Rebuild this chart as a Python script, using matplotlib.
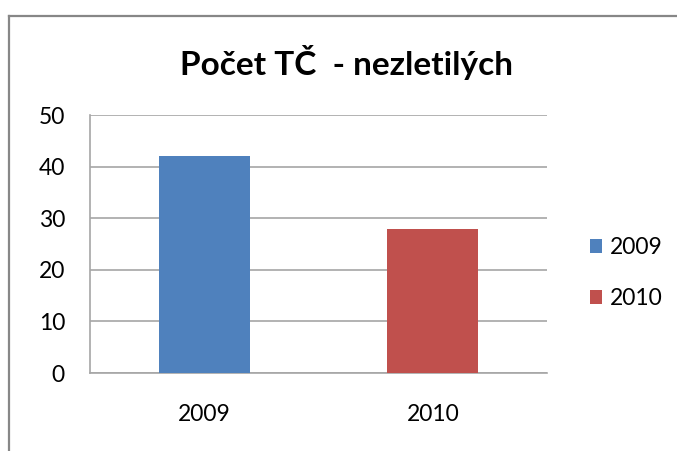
import matplotlib.pyplot as plt
from matplotlib.lines import Line2D
from matplotlib.patches import Patch

# data
categories = ["2009", "2010"]
values = [42, 28]
colors = ["#4f81bd", "#c0504d"]
y_ticks = [0, 10, 20, 30, 40, 50]
title = "Počet TČ  - nezletilých"

plt.rcParams['font.family'] = ['Lato', 'DejaVu Sans']

W, H = 677, 451
fig = plt.figure(figsize=(W / 100, H / 100), dpi=100)
fig.patch.set_facecolor("white")

# outer chart frame (only top and left edges show in the crop)
fx, fy = 8.5 / W, 1 - 15.5 / H
fig.add_artist(Line2D([fx, fx], [0, fy], transform=fig.transFigure, color="#878787", lw=1.6))
fig.add_artist(Line2D([fx, 1], [fy, fy], transform=fig.transFigure, color="#878787", lw=1.6))

# plot area in pixels: x 90..547, y 115..373
ax = fig.add_axes([90 / W, 1 - 373 / H, (547 - 90) / W, (373 - 115) / H])
x = range(len(categories))
bars = ax.bar(x, values, width=0.4, color=colors, zorder=3)

ax.set_xlim(-0.5, 1.5)
ax.set_ylim(0, 50)
ax.set_yticks(y_ticks)
ax.set_xticks(list(x))
ax.set_xticklabels(categories)
ax.grid(axis="y", color="#a6a6a6", lw=1.2, zorder=0)
ax.set_axisbelow(True)

for s in ["top", "right"]:
    ax.spines[s].set_visible(False)
for s in ["left", "bottom"]:
    ax.spines[s].set_color("#a6a6a6")
    ax.spines[s].set_linewidth(1.2)
ax.tick_params(axis="y", length=0, pad=18, labelsize=16.5, colors="#000000")
ax.tick_params(axis="x", length=0, pad=22, labelsize=16.5, colors="#000000")

fig.text(347 / W, 1 - 62 / H, title, ha="center", va="center",
         fontsize=24, fontweight="bold")

handles = [Patch(facecolor=c, edgecolor="none") for c in colors]
fig.legend(handles, categories, loc="center left",
           bbox_to_anchor=(569 / W, 1 - 273 / H), frameon=False,
           fontsize=16.5, handlelength=0.55, handleheight=0.55,
           handletextpad=0.35, labelspacing=1.3)

fig.savefig("out.png", dpi=100)
